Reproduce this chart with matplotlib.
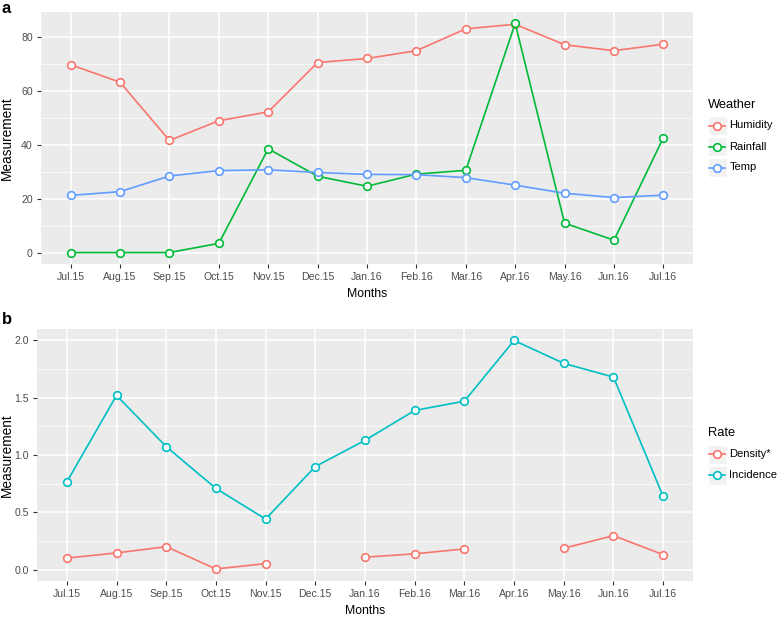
import matplotlib
matplotlib.use("Agg")
import matplotlib.pyplot as plt
import numpy as np
from matplotlib import font_manager
from matplotlib.patches import Rectangle

months = ["Jul.15", "Aug.15", "Sep.15", "Oct.15", "Nov.15", "Dec.15", "Jan.16",
          "Feb.16", "Mar.16", "Apr.16", "May.16", "Jun.16", "Jul.16"]

humidity = [69.7, 63.2, 41.6, 48.9, 52.2, 70.5, 72.0, 74.9, 83.0, 84.7, 77.1, 74.9, 77.3]
rainfall = [0.0, 0.0, 0.0, 3.4, 38.5, 28.3, 24.6, 29.1, 30.5, 85.0, 10.9, 4.6, 42.6]
temp = [21.2, 22.6, 28.4, 30.4, 30.7, 29.7, 29.0, 28.9, 27.8, 25.0, 22.0, 20.4, 21.3]

density = [0.10, 0.145, 0.20, 0.005, 0.052, np.nan, 0.108, 0.137, 0.18, np.nan, 0.186, 0.296, 0.13]
incidence = [0.765, 1.52, 1.073, 0.708, 0.441, 0.899, 1.128, 1.389, 1.47, 2.0, 1.80, 1.68, 0.638]

weather_names = ["Humidity", "Rainfall", "Temp"]
weather_colors = ["#F8766D", "#00BA38", "#619CFF"]
rate_names = ["Density*", "Incidence"]
rate_colors = ["#F8766D", "#00BFC4"]

names_avail = {f.name for f in font_manager.fontManager.ttflist}
if "Liberation Sans Narrow" in names_avail:
    NARROW = ["Liberation Sans Narrow", "DejaVu Sans"]
    k = 1.0
else:
    NARROW = ["Liberation Sans", "DejaVu Sans"]
    k = 0.84
REG = ["Liberation Sans", "DejaVu Sans"]
plt.rcParams['font.family'] = REG

W, H = 778, 617
fig = plt.figure(figsize=(W / 100, H / 100), dpi=100)
fig.patch.set_facecolor("white")


def px_axes(left, top, right, bottom):
    return fig.add_axes([left / W, 1 - bottom / H, (right - left) / W, (bottom - top) / H])


def style(ax, ylim, majors, minors, labels, ylab_x):
    ax.set_facecolor("#EBEBEB")
    n = len(months)
    ax.set_xlim(-0.6, n - 1 + 0.6)
    ax.set_ylim(*ylim)
    ax.set_xticks(range(n))
    ax.set_xticklabels(months, family=NARROW, fontsize=9 * k)
    ax.set_yticks(majors)
    ax.set_yticklabels(labels, family=NARROW, fontsize=9 * k)
    ax.set_yticks(minors, minor=True)
    ax.grid(True, which="major", color="white", linewidth=1.1)
    ax.grid(True, which="minor", axis="y", color="white", linewidth=0.5)
    ax.set_axisbelow(True)
    for s in ax.spines.values():
        s.set_visible(False)
    ax.tick_params(axis="both", which="major", length=3, width=0.8, color="#333333",
                   labelcolor="#4D4D4D", pad=3)
    ax.tick_params(axis="y", which="minor", length=0)
    ax.set_xlabel("Months", family=NARROW, fontsize=10.5 * k, color="black", labelpad=4)
    ax.set_ylabel("Measurement", family=REG, fontsize=9.8, color="black")
    ax.yaxis.set_label_coords(ylab_x, 0.5)


x = np.arange(len(months))
mk = dict(linewidth=1.2, marker="o", markersize=5.5, markerfacecolor="white", markeredgewidth=1.2)

# Panel a
axa = px_axes(41, 12, 693, 264)
for vals, c in zip([humidity, rainfall, temp], weather_colors):
    axa.plot(x, vals, color=c, markeredgecolor=c, **mk)
style(axa, (-4.25, 89.25), [0, 20, 40, 60, 80], [10, 30, 50, 70],
      ["0", "20", "40", "60", "80"], (14 - 41) / 652)

# Panel b
axb = px_axes(37, 329, 693, 581)
for vals, c in zip([density, incidence], rate_colors):
    axb.plot(x, vals, color=c, markeredgecolor=c, **mk)
style(axb, (-0.1, 2.1), [0, 0.5, 1.0, 1.5, 2.0], [0.25, 0.75, 1.25, 1.75],
      ["0.0", "0.5", "1.0", "1.5", "2.0"], (14 - 37) / 656)

# Legends drawn in a pixel-coordinate overlay
ov = fig.add_axes([0, 0, 1, 1])
ov.set_xlim(0, W)
ov.set_ylim(H, 0)
ov.axis("off")


def legend(title, title_y, names, colors, row0, step):
    ov.text(708, title_y, title, family=NARROW, fontsize=11 * k, va="center", ha="left")
    for i, (nm, c) in enumerate(zip(names, colors)):
        yc = row0 + i * step
        ov.add_patch(Rectangle((708, yc - 9.5), 19, 19, facecolor="#F2F2F2",
                               edgecolor="white", linewidth=1))
        ov.plot([709.5, 725.5], [yc, yc], color=c, **{**mk, "marker": None})
        ov.plot([717.5], [yc], color=c, markeredgecolor=c, **mk)
        ov.text(729.5, yc, nm, family=NARROW, fontsize=9.5 * k, va="center", ha="left")


legend("Weather", 105, weather_names, weather_colors, 125.5, 21)
legend("Rate", 433, rate_names, rate_colors, 454, 21)

fig.text(2 / W, 1 - 1 / H, "a", fontsize=12, fontweight="bold", va="top", ha="left")
fig.text(2 / W, 1 - 312 / H, "b", fontsize=12, fontweight="bold", va="top", ha="left")

fig.savefig("out.png", dpi=100)
